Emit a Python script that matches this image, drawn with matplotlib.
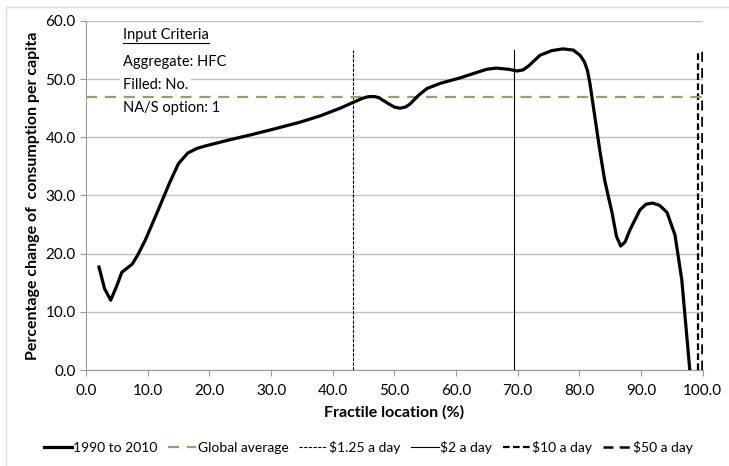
import matplotlib.pyplot as plt
from matplotlib.patches import Rectangle

plt.rcParams.update({
    'font.family': ['Lato', 'DejaVu Sans'],
    'font.size': 10,
    'savefig.dpi': 100,
    'figure.dpi': 100
})

# fractile location (%) vs percentage change of consumption per capita
fractile = [2.1, 3.0, 4.0, 5.0, 5.8, 7.5, 8.4, 9.6, 11.5, 13.6, 15.0, 16.5, 18.0, 19.3,
            23.0, 26.6, 30.0, 34.7, 38.0, 41.2, 43.3, 44.6, 45.4, 46.0, 46.8, 47.5,
            49.0, 50.0, 50.9, 51.8, 52.5, 54.0, 55.3, 57.5, 60.6, 63.5, 65.0, 66.5,
            68.5, 69.9, 70.9, 71.8, 72.5, 73.6, 75.5, 77.3, 79.0, 80.1, 80.8, 81.3,
            81.7, 83.3, 84.1, 85.3, 86.0, 86.7, 87.4, 88.2, 89.8, 90.8, 91.9, 93.0,
            94.2, 95.5, 96.6, 97.9]
change = [17.7, 14.0, 12.0, 14.5, 16.8, 18.2, 19.8, 22.3, 27.0, 32.3, 35.5, 37.3, 38.1, 38.5,
          39.5, 40.4, 41.3, 42.6, 43.7, 45.0, 46.0, 46.6, 46.9, 47.0, 47.0, 46.8,
          45.8, 45.2, 45.0, 45.2, 45.7, 47.3, 48.4, 49.3, 50.2, 51.2, 51.7, 51.9,
          51.7, 51.4, 51.6, 52.3, 53.0, 54.1, 54.9, 55.2, 55.0, 54.1, 53.0, 51.5,
          49.3, 37.8, 32.6, 27.0, 23.0, 21.3, 22.0, 24.1, 27.5, 28.5, 28.7, 28.3,
          27.1, 23.2, 15.5, 0.0]

global_average = 46.9
poverty_lines = [43.3, 69.4, 99.2, 99.8]
poverty_labels = [r'\$1.25 a day', r'\$2 a day', r'\$10 a day', r'\$50 a day']
criteria = ['Aggregate: HFC', 'Filled: No.', 'NA/S option: 1']

fig = plt.figure(figsize=(7.29, 4.66))
ax = fig.add_axes([0.118, 0.206, 0.846, 0.749])

# outer chart border
fig.patches.append(Rectangle((6 / 729, -0.05), 1.1, 1.05 - 7 / 466,
                             transform=fig.transFigure, fill=False,
                             edgecolor='#d9d9d9', linewidth=1))

ax.plot(fractile, change, color='black', linewidth=2.3, label='1990 to 2010',
        solid_joinstyle='round', zorder=5)
ax.axhline(global_average, color='#a09a72', linewidth=1.6, dashes=(5, 3.5),
           label='Global average', zorder=4)

styles = [dict(linewidth=0.8, dashes=(3, 1.2)),
          dict(linewidth=0.8),
          dict(linewidth=1.6, dashes=(3, 1.5)),
          dict(linewidth=1.8, dashes=(4, 2.5))]
for xv, lab, st in zip(poverty_lines, poverty_labels, styles):
    ax.plot([xv, xv], [0, 55], color='black', label=lab, zorder=3, **st)

ax.set_xlim(0, 100)
ax.set_ylim(0, 60)
ax.set_xticks(range(0, 101, 10))
ax.set_yticks(range(0, 61, 10))
ax.set_xticklabels([f'{v:.1f}' for v in range(0, 101, 10)])
ax.set_yticklabels([f'{v:.1f}' for v in range(0, 61, 10)])
ax.tick_params(axis='both', length=4, color='#999999', labelsize=11, direction='out')
ax.tick_params(axis='x', pad=6)
ax.grid(axis='y', color='#bfbfbf', linewidth=1)
ax.set_axisbelow(True)
for s in ['top', 'right']:
    ax.spines[s].set_visible(False)
for s in ['left', 'bottom']:
    ax.spines[s].set_color('#999999')

ax.set_xlabel('Fractile location (%)', fontsize=11.5, fontweight='bold', labelpad=5)
ax.set_ylabel('Percentage change of  consumption per capita', fontsize=11.5,
              fontweight='bold', labelpad=4)

# input criteria box
title = ax.text(6.0, 57.6, 'Input Criteria', fontsize=10.5, va='center', ha='left',
                bbox=dict(facecolor='white', edgecolor='none', pad=2), zorder=6)
for i, t in enumerate(criteria):
    ax.text(6.0, 52.9 - i * 3.9, t, fontsize=10.5, va='center', ha='left',
            bbox=dict(facecolor='white', edgecolor='none', pad=2), zorder=3.5)

fig.canvas.draw()
bb = title.get_window_extent().transformed(ax.transData.inverted())
ax.plot([bb.x0, bb.x1], [bb.y0 - 0.1, bb.y0 - 0.1], color='black', linewidth=0.8, zorder=7)

fig.legend(loc='lower center', bbox_to_anchor=(0.505, 0.0), ncol=6, frameon=False,
           fontsize=10, handlelength=2.0, handletextpad=0.1, columnspacing=0.8)

fig.savefig('out.png')
